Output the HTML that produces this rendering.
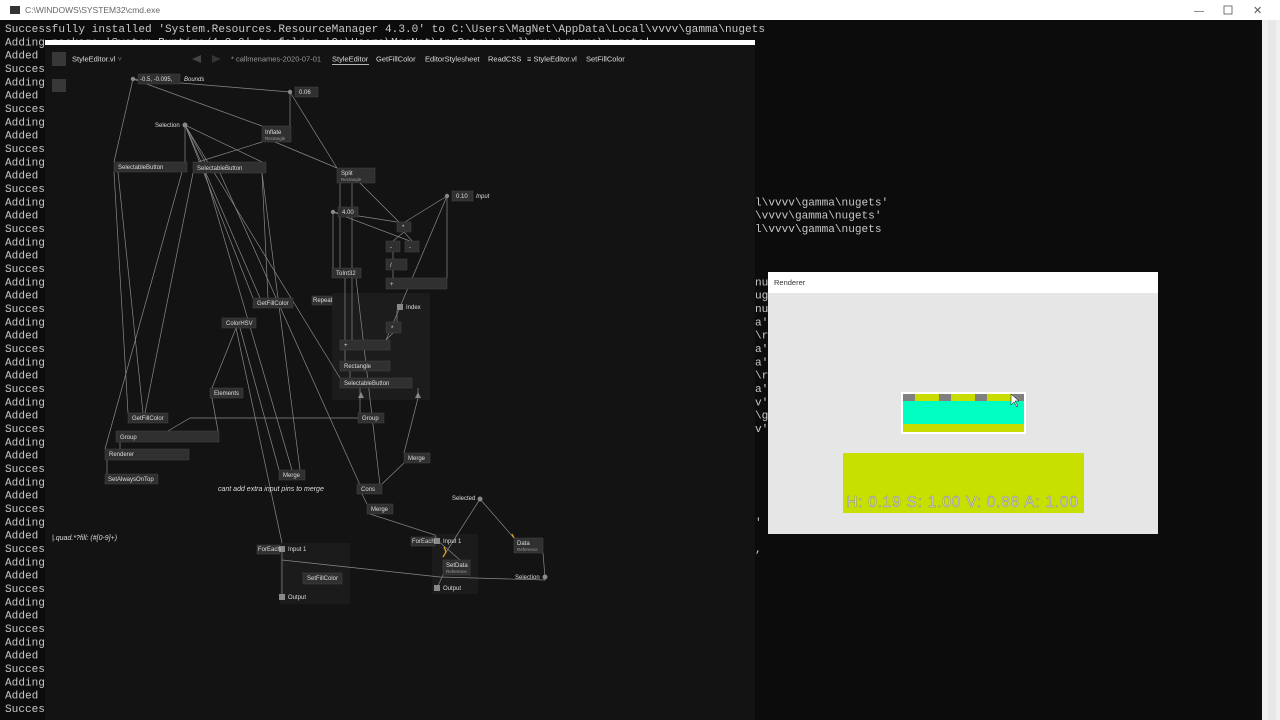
<!DOCTYPE html>
<html><head><meta charset="utf-8"><style>
html,body{margin:0;padding:0;background:#0c0c0c;width:1280px;height:720px;overflow:hidden}
svg{position:absolute;left:0;top:0}
.c{font-family:"Liberation Mono",monospace;font-size:11.1px;fill:#c8c8c8}
.n rect{fill:#303030;stroke:#444;stroke-width:.5}
.t{font-family:"Liberation Sans",sans-serif;font-size:6px;fill:#ddd}
.s{font-family:"Liberation Sans",sans-serif;font-size:4.5px;fill:#999}
.tb{font-family:"Liberation Sans",sans-serif;font-size:7.5px;fill:#ddd}
.l{stroke:#8a8a8a;stroke-width:.7;fill:none}
</style></head><body>
<svg width="1280" height="720" xmlns="http://www.w3.org/2000/svg">
<rect x="0" y="0" width="1280" height="720" fill="#0c0c0c"/>
<rect x="0" y="0" width="1280" height="20" fill="#fff"/>
<rect x="10" y="6" width="10" height="8" fill="#333"/>
<text x="25" y="13" font-family="Liberation Sans,sans-serif" font-size="8.5" fill="#666">C:\WINDOWS\SYSTEM32\cmd.exe</text>
<text x="1194" y="14" font-family="Liberation Sans,sans-serif" font-size="10" fill="#555">—</text>
<rect x="1224" y="6" width="8" height="8" fill="none" stroke="#555" stroke-width=".8"/>
<text x="1253" y="14" font-family="Liberation Sans,sans-serif" font-size="11" fill="#555">✕</text>
<rect x="1262" y="20" width="18" height="700" fill="#f0f0f0"/>
<rect x="1268" y="20" width="8" height="700" fill="#e8e8e8"/>
<g class="c">
<text x="5" y="32" textLength="760">Successfully installed 'System.Resources.ResourceManager 4.3.0' to C:\Users\MagNet\AppData\Local\vvvv\gamma\nugets</text>
<text x="5" y="45.3">Adding package 'System.Runtime/4.3.0' to folder 'C:\Users\MagNet\AppData\Local\vvvv\gamma\nugets'</text>
<text x="5" y="58.7">Added</text><text x="5" y="72">Succes</text><text x="5" y="85.3">Adding</text><text x="5" y="98.7">Added</text>
<text x="5" y="112">Succes</text><text x="5" y="125.3">Adding</text><text x="5" y="138.7">Added</text>
<text x="5" y="152">Succes</text><text x="5" y="165.3">Adding</text><text x="5" y="178.7">Added</text>
<text x="5" y="192">Succes</text><text x="5" y="205.3">Adding</text><text x="5" y="218.7">Added</text>
<text x="5" y="232">Succes</text><text x="5" y="245.3">Adding</text><text x="5" y="258.7">Added</text>
<text x="5" y="272">Succes</text><text x="5" y="285.3">Adding</text><text x="5" y="298.7">Added</text>
<text x="5" y="312">Succes</text><text x="5" y="325.3">Adding</text><text x="5" y="338.7">Added</text>
<text x="5" y="352">Succes</text><text x="5" y="365.3">Adding</text><text x="5" y="378.7">Added</text>
<text x="5" y="392">Succes</text><text x="5" y="405.3">Adding</text><text x="5" y="418.7">Added</text>
<text x="5" y="432">Succes</text><text x="5" y="445.3">Adding</text><text x="5" y="458.7">Added</text>
<text x="5" y="472">Succes</text><text x="5" y="485.3">Adding</text><text x="5" y="498.7">Added</text>
<text x="5" y="512">Succes</text><text x="5" y="525.3">Adding</text><text x="5" y="538.7">Added</text>
<text x="5" y="552">Succes</text><text x="5" y="565.3">Adding</text><text x="5" y="578.7">Added</text>
<text x="5" y="592">Succes</text><text x="5" y="605.3">Adding</text><text x="5" y="618.7">Added</text>
<text x="5" y="632">Succes</text><text x="5" y="645.3">Adding</text><text x="5" y="658.7">Added</text>
<text x="5" y="672">Succes</text><text x="5" y="685.3">Adding</text><text x="5" y="698.7">Added</text>
<text x="5" y="712">Succes</text>
<text x="755" y="205.3">l\vvvv\gamma\nugets'</text>
<text x="755" y="218.7">\vvvv\gamma\nugets'</text>
<text x="755" y="232">l\vvvv\gamma\nugets</text>
<text x="755" y="285.3">nu</text><text x="755" y="298.7">ug</text><text x="755" y="312">nu</text>
<text x="755" y="325.3">a'</text><text x="755" y="338.7">\r</text><text x="755" y="352">a'</text>
<text x="755" y="365.3">a'</text><text x="755" y="378.7">\r</text><text x="755" y="392">a'</text>
<text x="755" y="405.3">v'</text><text x="755" y="418.7">\g</text><text x="755" y="432">v'</text>
<text x="755" y="525.3">'</text><text x="755" y="552">,</text>
</g>
<rect x="45" y="40" width="710" height="680" fill="#131313"/>
<rect x="45" y="40" width="710" height="5" fill="#fff"/>
<rect x="52" y="52" width="14" height="14" fill="#383838"/>
<rect x="52" y="79" width="14" height="13" fill="#383838"/>
<text class="tb" x="72" y="61.5">StyleEditor.vl <tspan fill="#777">˅</tspan></text>
<polygon points="192,59 201,55 201,63" fill="#444"/><polygon points="221,59 212,55 212,63" fill="#333"/>
<text class="tb" x="231" y="61.5" style="fill:#999">* callmenames-2020-07-01</text>
<text class="tb" x="332" y="61.5">StyleEditor</text><rect x="332" y="64" width="37" height=".8" fill="#ddd"/>
<text class="tb" x="376" y="61.5">GetFillColor</text>
<text class="tb" x="425" y="61.5">EditorStylesheet</text>
<text class="tb" x="488" y="61.5">ReadCSS</text>
<text class="tb" x="527" y="61.5">≡ StyleEditor.vl</text>
<text class="tb" x="586" y="61.5">SetFillColor</text>
<rect x="332" y="293" width="98" height="107" fill="#1c1c1c"/>
<rect x="280" y="543" width="70" height="61" fill="#1b1b1b"/>
<rect x="432" y="534" width="46" height="60" fill="#1b1b1b"/>
<g class="l">
<path d="M133 79 L262 126"/><path d="M133 79 L114 162"/><path d="M133 79 L290 92"/>
<path d="M290 92 L290 126"/><path d="M290 92 L337 168"/>
<path d="M185 125 L185 162"/><path d="M185 125 L262 162"/><path d="M185 125 L205 162"/>
<path d="M185 125 L253 298"/><path d="M185 125 L260 298"/><path d="M185 125 L340 378"/>
<path d="M262 142 L198 162"/><path d="M275 142 L337 168"/>
<path d="M114 172 L128 413"/><path d="M118 172 L143 413"/>
<path d="M193 173 L145 413"/><path d="M205 173 L292 470"/><path d="M220 173 L360 485"/>
<path d="M262 173 L268 298"/><path d="M262 173 L300 470"/>
<path d="M182 172 L105 449"/>
<path d="M340 183 L340 268"/><path d="M352 183 L352 340"/><path d="M360 183 L399 222"/>
<path d="M333 212 L397 222"/><path d="M333 212 L410 241"/><path d="M333 212 L333 268"/>
<path d="M447 196 L405 222"/><path d="M447 196 L386 340"/><path d="M447 196 L447 278"/>
<path d="M404 232 L393 241"/><path d="M404 232 L412 241"/><path d="M393 252 L393 259"/><path d="M393 270 L393 278"/>
<path d="M345 278 L345 340"/><path d="M356 278 L380 485"/>
<path d="M397 310 L397 322"/><path d="M393 333 L386 340"/>
<path d="M345 350 L345 361"/><path d="M350 371 L350 378"/>
<path d="M360 388 L360 413"/><path d="M418 388 L418 398 L404 453"/>
<path d="M236 328 L212 388"/><path d="M236 328 L282 543"/><path d="M240 328 L279 470"/>
<path d="M212 398 L218 431 "/><path d="M358 418 L190 418 L168 431"/>
<path d="M120 442 L120 449"/><path d="M107 460 L107 474"/>
<path d="M404 463 L382 484"/><path d="M362 494 L367 504"/>
<path d="M370 514 L435 535 L437 540"/>
<path d="M480 499 L443 557"/><path d="M480 499 L514 538"/>
<path d="M543 553 L545 577 L545 580 L440 577 L282 560"/>
<path d="M282 549 L282 597"/><path d="M303 573 L305 578"/>
<path d="M437 540 L460 560"/><path d="M443 575 L437 588"/>
</g>
<path d="M443 557 L446 552 L444 547" stroke="#d9a020" stroke-width="1.3" fill="none"/>
<path d="M512 534 L514 538" stroke="#d9a020" stroke-width="1.3" fill="none"/>
<polygon points="358,398 361,392 364,398" fill="#888"/><polygon points="415,398 418,392 421,398" fill="#888"/>
<g class="n">
<rect x="138" y="74" width="42" height="10"/><rect x="295" y="87" width="23" height="10"/>
<rect x="262" y="126" width="29" height="16"/>
<rect x="114" y="162" width="73" height="10"/><rect x="193" y="162" width="73" height="11"/>
<rect x="337" y="168" width="38" height="15"/>
<rect x="452" y="191" width="21" height="10"/><rect x="338" y="207" width="20" height="10"/>
<rect x="397" y="222" width="14" height="10"/><rect x="386" y="241" width="14" height="11"/><rect x="405" y="241" width="14" height="11"/>
<rect x="386" y="259" width="21" height="11"/><rect x="386" y="278" width="61" height="11"/>
<rect x="332" y="268" width="29" height="10"/><rect x="312" y="296" width="20" height="9"/>
<rect x="386" y="322" width="15" height="11"/><rect x="340" y="340" width="50" height="10"/>
<rect x="340" y="361" width="50" height="10"/><rect x="340" y="378" width="72" height="10"/>
<rect x="253" y="298" width="40" height="10"/><rect x="222" y="318" width="34" height="10"/>
<rect x="210" y="388" width="33" height="10"/><rect x="358" y="413" width="26" height="10"/>
<rect x="128" y="413" width="40" height="10"/><rect x="116" y="431" width="103" height="11"/>
<rect x="105" y="449" width="84" height="11"/><rect x="105" y="474" width="53" height="10"/>
<rect x="279" y="470" width="26" height="10"/><rect x="404" y="453" width="26" height="10"/>
<rect x="357" y="484" width="25" height="10"/><rect x="367" y="504" width="26" height="10"/>
<rect x="257" y="545" width="23" height="9"/><rect x="303" y="573" width="39" height="11"/>
<rect x="411" y="537" width="24" height="9"/><rect x="443" y="560" width="27" height="15"/>
<rect x="514" y="538" width="29" height="15"/>
</g>
<g fill="#888">
<circle cx="133" cy="79" r="2.2"/><circle cx="290" cy="92" r="2.2"/><circle cx="185" cy="125" r="2.5"/>
<circle cx="447" cy="196" r="2.2"/><circle cx="333" cy="212" r="2.2"/><circle cx="480" cy="499" r="2.5"/><circle cx="545" cy="577" r="2.5"/>
<rect x="397" y="304" width="6" height="6"/><rect x="279" y="546" width="6" height="6"/><rect x="279" y="594" width="6" height="6"/>
<rect x="434" y="538" width="6" height="6"/><rect x="434" y="585" width="6" height="6"/>
</g>
<g class="t">
<text x="140" y="81">-0.5, -0.095,</text><text x="184" y="81" font-style="italic">Bounds</text>
<text x="299" y="94">0.06</text><text x="155" y="127">Selection</text>
<text x="265" y="134">Inflate</text><text class="s" x="265" y="140">Rectangle</text>
<text x="118" y="169">SelectableButton</text><text x="197" y="170">SelectableButton</text>
<text x="341" y="175">Split</text><text class="s" x="341" y="181">Rectangle</text>
<text x="456" y="198">0.10</text><text x="476" y="198" font-style="italic">Input</text>
<text x="342" y="214">4.00</text>
<text x="402" y="229">*</text><text x="390" y="249">-</text><text x="409" y="249">-</text><text x="390" y="267">/</text><text x="390" y="286">+</text>
<text x="336" y="275">ToInt32</text><text x="313" y="302">Repeat</text><text x="406" y="309">Index</text>
<text x="391" y="330">*</text><text x="344" y="347">+</text><text x="344" y="368">Rectangle</text><text x="344" y="385">SelectableButton</text>
<text x="257" y="305">GetFillColor</text><text x="226" y="325">ColorHSV</text><text x="214" y="395">Elements</text>
<text x="362" y="420">Group</text><text x="132" y="420">GetFillColor</text><text x="120" y="439">Group</text>
<text x="109" y="456">Renderer</text><text x="108" y="481">SetAlwaysOnTop</text>
<text x="283" y="477">Merge</text><text x="408" y="460">Merge</text><text x="361" y="491">Cons</text><text x="371" y="511">Merge</text>
<text x="218" y="491" font-size="7" font-style="italic">cant add extra input pins to merge</text>
<text x="52" y="540" font-size="7" font-style="italic">|.quad.*?fill: (#[0-9]+)</text>
<text x="258" y="551">ForEach</text><text x="288" y="551">Input 1</text>
<text x="307" y="580">SetFillColor</text><text x="288" y="599">Output</text>
<text x="412" y="543">ForEach</text><text x="443" y="543">Input 1</text>
<text x="446" y="567">SetData</text><text class="s" x="446" y="573">Reference</text>
<text x="443" y="590">Output</text><text x="452" y="500">Selected</text>
<text x="517" y="545">Data</text><text class="s" x="517" y="551">Reference</text>
<text x="515" y="579">Selection</text>
</g>
<rect x="768" y="272" width="390" height="262" fill="#e6e6e6"/>
<rect x="768" y="272" width="390" height="21" fill="#fff"/>
<text x="774" y="285" font-family="Liberation Sans,sans-serif" font-size="7.5" fill="#333">Renderer</text>
<rect x="901" y="392" width="125" height="42" fill="#fff"/>
<rect x="903" y="394" width="121" height="38" fill="#c8dc00"/>
<rect x="903" y="401" width="121" height="23" fill="#00ffc0"/>
<g fill="#808080"><rect x="903" y="394" width="12" height="7"/><rect x="939" y="394" width="12" height="7"/><rect x="975" y="394" width="12" height="7"/><rect x="1011" y="394" width="13" height="7"/></g>
<polygon points="1011,394 1011,405 1014,402 1017,407 1018,406 1015,401 1019,401" fill="#fff" stroke="#000" stroke-width=".5"/>
<rect x="843" y="453" width="241" height="60" fill="#c8e000"/>
<text x="846" y="507" font-family="Liberation Sans,sans-serif" font-size="16" fill="#d0d0d0" stroke="#888" stroke-width=".4" textLength="232" lengthAdjust="spacing">H: 0.19  S: 1.00  V: 0.88  A: 1.00</text>
</svg>
</body></html>
